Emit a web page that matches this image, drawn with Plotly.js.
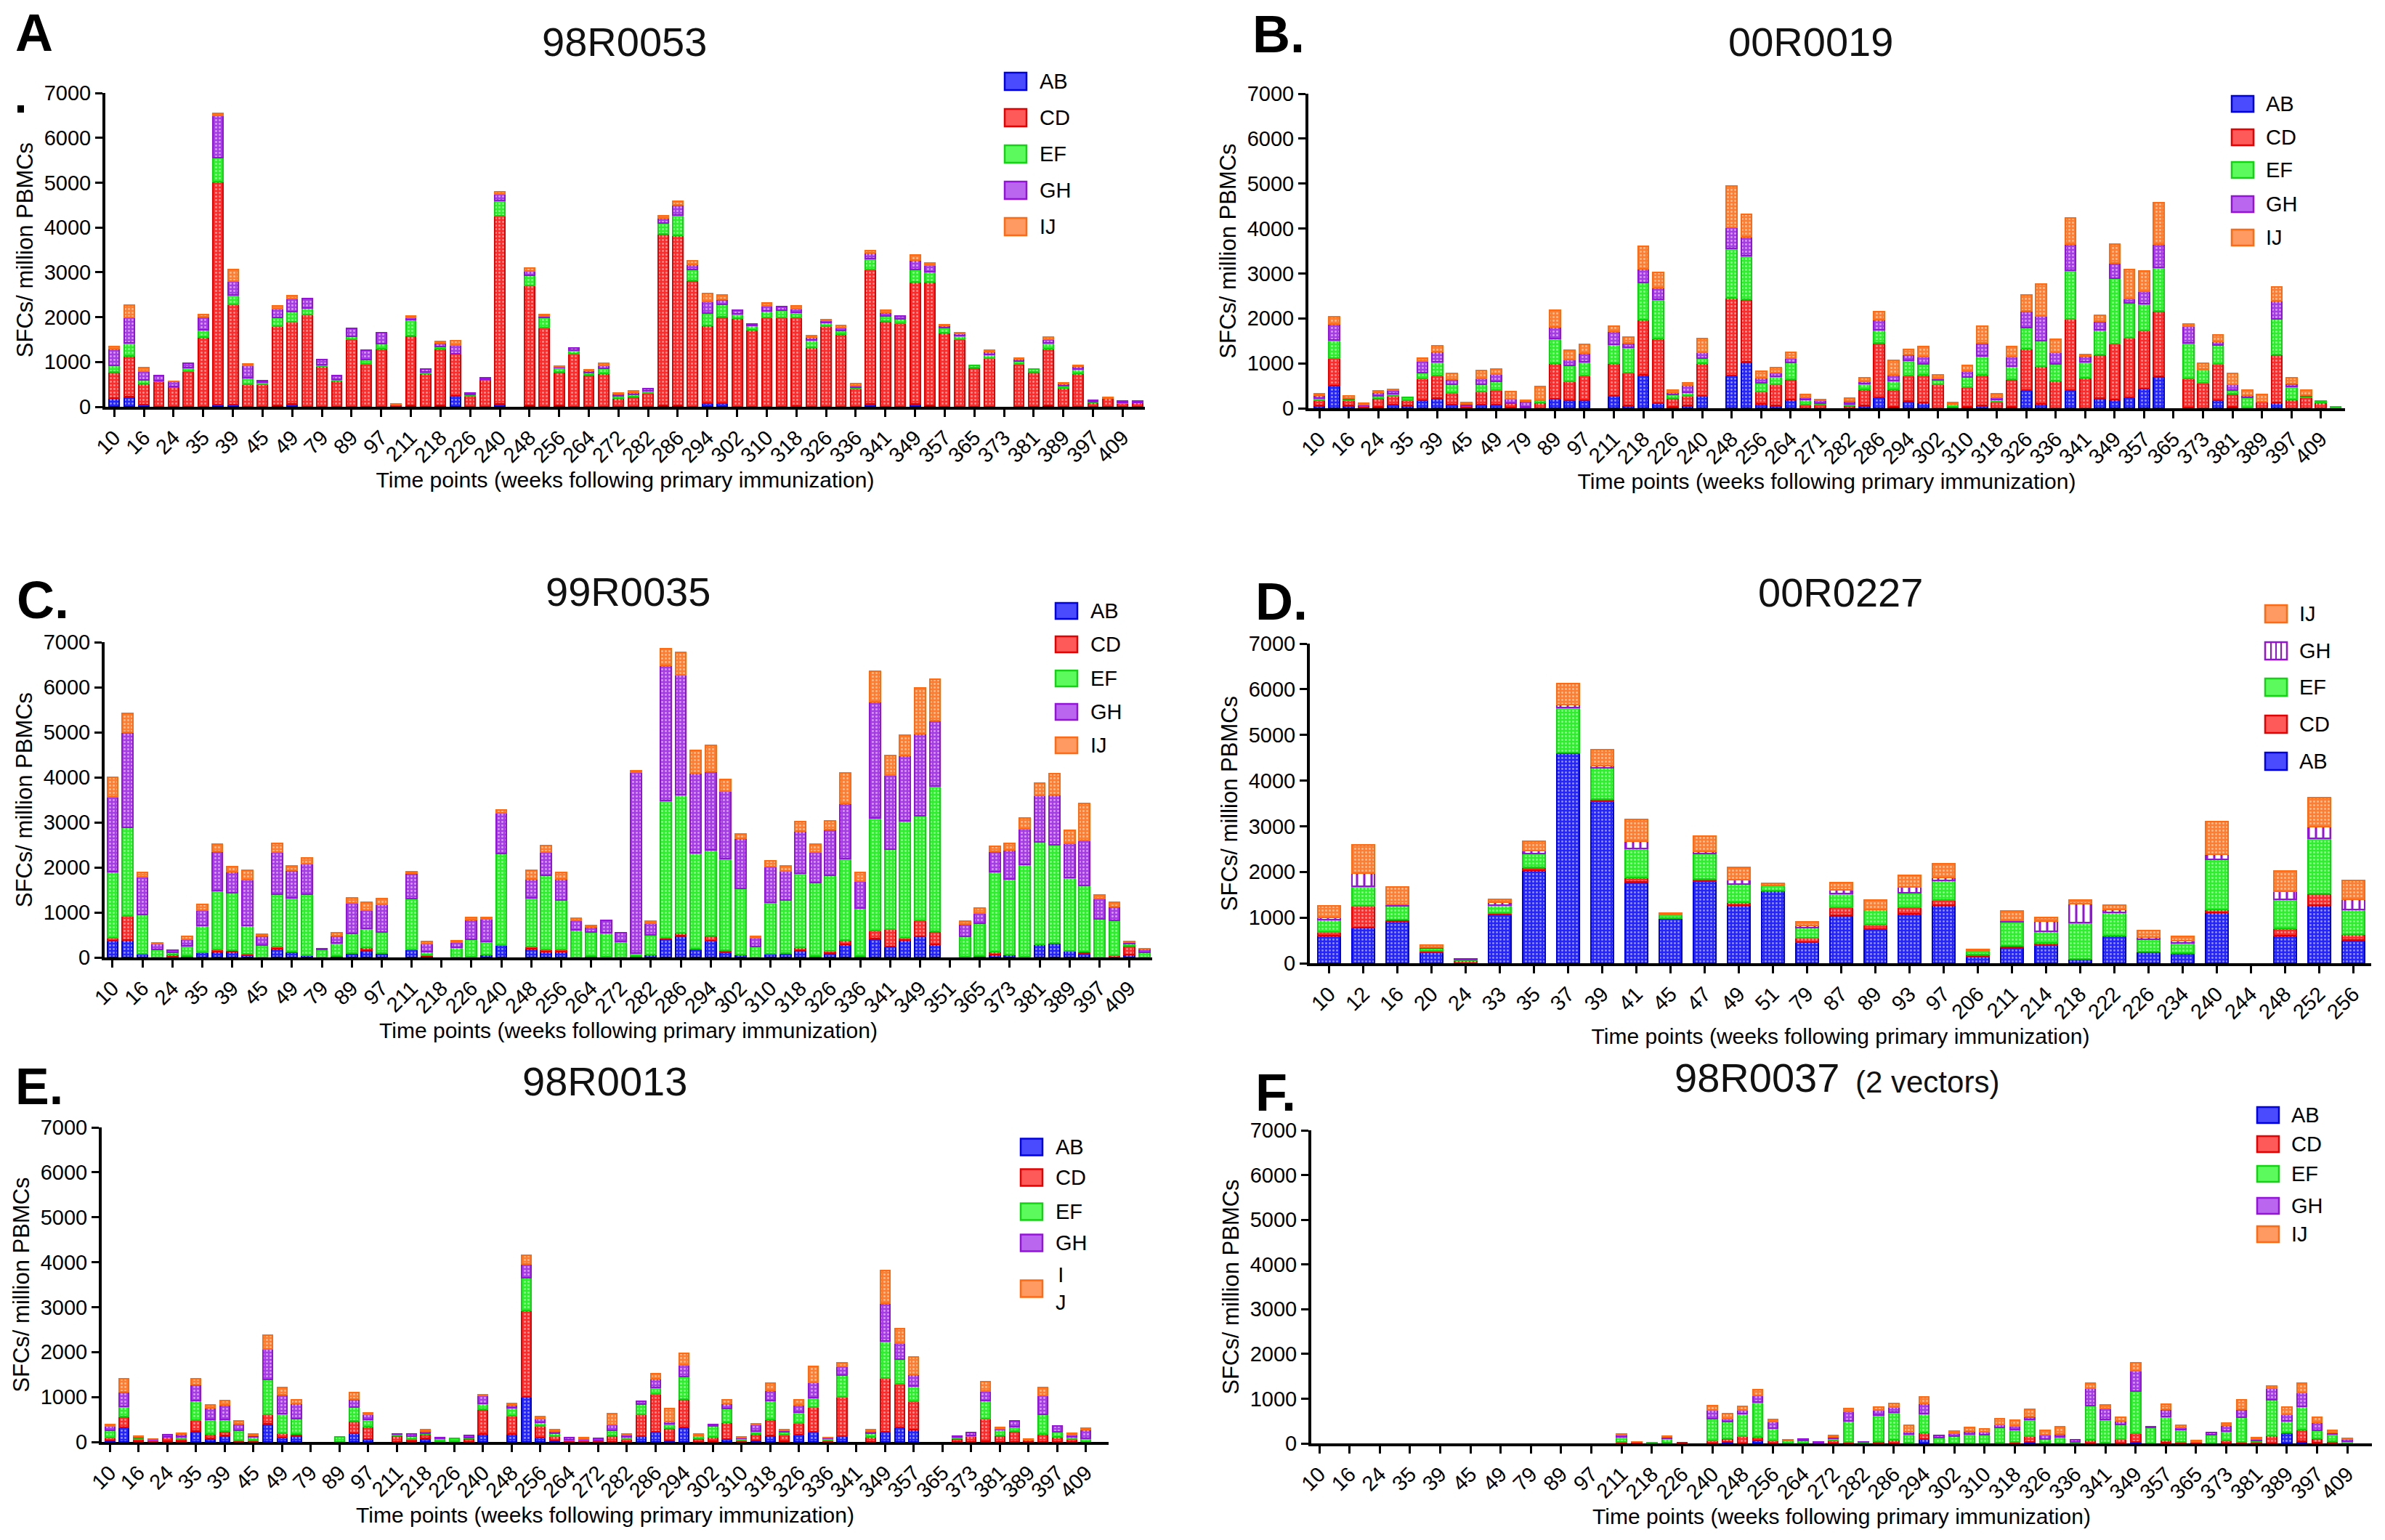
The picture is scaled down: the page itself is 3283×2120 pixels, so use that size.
<!DOCTYPE html>
<html><head><meta charset="utf-8">
<script src="https://cdn.plot.ly/plotly-3.0.1.min.js"></script>
<style>html,body{margin:0;padding:0;background:#fff;}#chart{width:3283px;height:2120px;}</style>
</head><body><div id="chart"></div>
<script>
// ---------- categories / tick labels ----------
const weeksMain = ["10","12","16","20","24","33","35","37","39","41","45","47","49","51","79","87","89","93","97","206","211","214","218","222","226","234","240","244","248","252","256","260","264","268","272","276","282","284","286","290","294","298","302","306","310","314","318","322","326","330","336","338","341","345","349","353","357","361","365","369","373","377","381","385","389","393","397","401","409","413"];
const weeksB = ["10","12","16","20","24","33","35","37","39","41","45","47","49","51","79","87","89","93","97","206","211","214","218","222","226","234","240","244","248","252","256","260","264","268","271","276","282","284","286","290","294","298","302","306","310","314","318","322","326","330","336","338","341","345","349","353","357","361","365","369","373","377","381","385","389","393","397","401","409","413"];
const weeksC = ["10","12","16","20","24","33","35","37","39","41","45","47","49","51","79","87","89","93","97","206","211","214","218","222","226","234","240","244","248","252","256","260","264","268","272","276","282","284","286","290","294","298","302","306","310","314","318","322","326","330","336","338","341","345","349","353","351","361","365","369","373","377","381","385","389","393","397","401","409","413"];
const weeksD = ["10","12","16","20","24","33","35","37","39","41","45","47","49","51","79","87","89","93","97","206","211","214","218","222","226","234","240","244","248","252","256"];
const seriesNames = ["AB","CD","EF","GH","IJ"];

// ---------- A: 98R0053 ----------
const A_AB = [190,220,50,0,0,0,0,50,50,0, 0,40,60,0,0,0,0,0,0,0, 40,0,30,250,0,0,60,0,30,0, 30,0,0,0,0,0,0,30,30,0, 80,80,0,0,0,0,20,0,0,0, 0,60,0,0,60,40,0,0,0,0, 0,0,0,30,0,0,0,0,0,0];
const A_CD = [580,910,470,560,460,800,1560,4980,2230,500, 500,1760,1830,2060,900,580,1510,960,1300,50, 1540,740,1270,930,250,610,4200,0,2670,1770, 740,1180,710,750,200,230,300,3830,3800,2820, 1730,1930,1980,1710,2000,2000,1970,1330,1800,1620, 400,3010,1910,1860,2720,2740,1650,1510,880,1080, 0,960,770,1270,420,750,90,190,80,100];
const A_EF = [150,300,80,20,0,70,150,520,210,150, 50,190,230,140,40,40,60,100,110,0, 360,40,50,0,30,0,340,0,230,220, 100,80,50,110,40,50,60,240,440,240, 280,280,90,100,140,150,120,160,80,80, 40,240,120,100,290,240,110,70,50,80, 0,60,80,130,50,90,30,0,20,0];
const A_GH = [370,570,200,120,100,110,300,940,310,280, 40,200,300,220,110,80,180,210,240,0, 60,60,70,190,20,40,140,0,100,40, 20,60,50,60,50,50,50,120,240,110, 260,110,90,45,110,80,80,60,50,70, 30,130,70,60,200,140,50,50,0,70, 0,50,0,80,50,70,20,0,30,30];
const A_IJ = [60,270,70,0,10,0,50,60,270,20, 0,60,60,0,0,0,0,0,0,10, 30,0,40,110,0,0,60,0,70,30, 10,0,20,60,10,20,0,40,70,80, 170,100,0,0,60,0,60,30,20,40, 50,50,50,0,120,50,20,20,0,30, 0,15,0,50,15,20,0,25,0,0];

// ---------- B: 00R0019 ----------
const B_AB = [60,500,70,10,30,80,70,170,230,80, 20,80,80,10,0,0,210,170,180,0, 270,70,750,110,30,70,270,0,730,1030, 90,70,200,0,0,0,0,60,240,40, 160,130,0,0,30,70,0,40,400,100, 0,400,0,230,190,240,430,710,0,20, 0,170,30,0,0,130,0,0,0,0];
const B_CD = [120,620,110,50,200,190,100,500,500,260, 40,290,320,100,30,130,800,430,550,0, 730,730,1220,1440,200,210,730,0,1720,1400, 280,470,440,80,80,0,60,360,1220,380, 560,620,530,30,440,680,140,600,920,830, 620,1590,680,960,1250,1330,1300,1460,0,640, 560,810,300,20,150,1060,200,240,130,0];
const B_EF = [50,400,30,10,40,60,80,130,300,200, 10,170,200,10,0,40,540,360,300,0, 420,560,830,880,70,70,120,0,1100,960, 200,170,380,120,40,0,40,130,280,200, 350,240,100,60,220,420,60,290,480,580, 370,1080,360,550,1450,770,600,960,0,790, 310,420,80,220,0,800,290,30,30,40];
const B_GH = [60,350,20,10,80,70,0,250,230,110, 20,120,160,90,130,0,260,130,200,0, 290,100,300,250,60,160,130,0,480,420, 110,90,100,40,50,0,60,50,240,130, 130,160,30,10,140,280,50,220,360,540, 260,580,120,200,350,100,280,520,0,370, 0,80,120,50,0,410,60,20,0,0];
const B_IJ = [40,170,40,30,40,20,0,60,130,120, 40,180,110,160,20,320,380,200,190,0, 120,130,500,350,40,50,300,0,920,500, 150,110,120,60,30,0,70,80,170,320, 110,220,90,30,120,370,70,230,360,720, 290,580,40,130,410,650,440,920,0,50, 130,150,250,110,150,300,130,120,0,0];

// ---------- C: 99R0035 ----------
const C_AB = [370,380,80,0,20,0,110,130,130,50, 0,200,110,50,0,30,100,160,100,0, 170,30,0,0,20,70,270,0,200,130, 130,0,0,20,0,0,60,420,480,170, 370,110,60,0,80,80,160,20,90,290, 20,420,250,380,470,290,0,0,30,60, 60,0,290,330,150,100,0,0,60,0];
const C_CD = [60,540,0,0,50,30,0,50,30,30, 0,40,20,0,0,0,0,60,0,0, 0,20,0,0,0,0,0,0,40,40, 40,0,40,0,0,30,0,20,70,30, 120,50,0,0,0,20,60,10,50,90, 20,180,380,50,350,290,0,20,0,70, 0,20,0,0,0,30,0,50,200,0];
const C_EF = [1470,1970,870,170,40,230,600,1300,1270,630, 280,1160,1200,1350,170,300,430,430,460,0, 1130,80,0,220,380,290,2030,0,1090,1650, 1110,620,520,530,350,60,440,3040,3070,2130, 1890,2040,1480,240,1140,1180,1650,1630,1690,1820, 1050,2500,1770,2600,2320,3220,0,450,730,1780, 1680,2050,2280,2170,1620,1470,860,780,40,110];
const C_GH = [1670,2110,840,130,50,150,340,870,470,1020, 200,940,600,680,30,150,680,400,620,0, 570,180,0,120,440,490,910,0,420,520, 470,200,110,280,200,4030,260,3000,2650,1770, 1750,1490,1110,200,790,640,940,680,1010,1220, 610,2580,1650,1450,1830,1460,0,270,230,440, 640,780,1030,1120,770,1000,440,300,40,80];
const C_IJ = [430,420,100,30,0,50,130,160,120,200, 40,190,110,130,0,70,120,180,120,0, 30,40,0,30,40,30,60,0,190,140, 130,50,40,0,0,30,40,380,500,490, 580,260,100,20,130,110,200,170,190,670, 180,680,430,450,1020,910,0,70,110,110, 160,250,270,460,290,820,80,90,20,10];

// ---------- D: 00R0227 ----------
const D_AB = [600,780,930,240,0,1070,2040,4600,3540,1780, 980,1790,1280,1590,460,1050,740,1080,1270,150, 350,400,90,610,250,210,1110,0,610,1280, 510];
const D_CD = [90,470,20,30,60,30,60,20,60,100, 0,50,60,0,90,170,100,140,110,40, 30,50,0,0,0,20,60,0,160,250, 130];
const D_EF = [260,430,300,60,20,180,300,980,680,640, 80,560,400,120,230,310,330,320,440,80, 530,250,800,510,280,220,1110,0,630,1200, 540];
const D_GH = [50,300,40,20,20,50,60,60,40,150, 0,50,90,0,40,70,0,130,50,0, 30,230,420,50,50,50,100,0,170,260, 220];
const D_IJ = [250,620,380,50,0,70,220,470,360,480, 30,340,270,40,80,160,210,250,310,30, 200,80,80,100,140,90,720,0,450,640, 410];

// ---------- E: 98R0013 ----------
const E_AB = [30,320,20,0,10,20,240,80,150,10, 10,400,100,140,0,0,0,200,70,0, 0,10,80,0,0,0,180,0,170,1010, 100,30,0,0,10,0,0,130,230,40, 320,0,10,70,0,30,150,20,160,230, 0,130,0,0,230,330,280,0,0,0, 0,20,0,0,0,0,0,0,0,0];
const E_CD = [70,240,50,40,110,40,250,90,90,20, 30,220,100,30,0,0,0,270,270,0, 140,60,90,20,20,80,540,0,420,1920, 250,100,30,40,20,150,70,480,840,260, 640,80,110,370,40,140,350,140,260,540, 40,880,0,110,1190,970,620,0,0,80, 130,500,150,250,50,170,120,60,0,0];
const E_EF = [160,230,30,10,0,60,430,330,260,230, 70,770,430,350,0,0,110,310,160,0, 30,60,30,60,60,20,140,0,170,730, 90,60,20,10,10,110,40,230,150,100, 490,60,230,300,40,80,420,60,240,210, 40,470,0,80,820,550,350,0,0,40, 20,400,120,90,0,440,110,50,80,0];
const E_GH = [90,320,20,10,40,60,350,260,330,150, 40,680,420,340,0,0,0,180,110,0, 10,40,40,20,0,40,170,0,70,300, 80,60,40,10,40,130,50,60,180,50, 270,0,30,120,20,140,220,40,160,350, 10,200,0,60,850,350,260,0,0,10, 60,210,20,130,0,430,120,50,190,0];
const E_IJ = [40,290,10,10,0,20,140,70,90,60, 20,300,160,80,0,0,0,140,30,0, 0,0,40,0,0,0,20,0,30,200, 40,20,0,30,0,240,20,0,120,290, 260,30,0,80,20,20,170,20,110,350, 10,80,0,30,730,320,380,0,0,0, 0,210,40,0,20,180,0,30,30,0];

// ---------- F: 98R0037 (2 vectors) ----------
const F_AB = [0,0,0,0,0,0,0,0,0,0, 0,0,0,0,0,0,0,0,0,0, 0,0,0,0,0,0,0,30,0,70, 0,0,0,0,0,0,0,0,0,0, 90,0,0,0,0,0,0,40,0,0, 0,0,0,0,30,0,20,10,0,0, 0,0,0,0,230,50,20,0,0,0];
const F_CD = [0,0,0,0,0,0,0,0,0,0, 0,0,0,0,0,0,0,0,0,0, 40,30,0,20,20,0,70,80,170,70, 60,0,0,20,60,30,0,50,80,20, 160,0,0,0,0,20,40,130,20,0, 0,80,20,90,200,0,60,30,30,0, 60,30,40,180,20,260,100,50,0,0];
const F_EF = [0,0,0,0,0,0,0,0,0,0, 0,0,0,0,0,0,0,0,0,0, 100,0,20,90,0,0,480,370,490,780, 280,60,70,0,60,480,30,580,620,190, 420,130,170,210,190,330,270,370,70,140, 40,760,520,330,940,360,520,270,0,200, 210,550,30,790,260,520,170,160,50,0];
const F_GH = [0,0,0,0,0,0,0,0,0,0, 0,0,0,0,0,0,0,0,0,0, 50,0,0,30,0,0,200,80,80,150, 150,0,20,20,20,210,10,120,120,50, 230,50,60,70,70,80,80,60,110,70, 40,390,240,90,460,20,170,40,0,50, 130,190,30,270,140,300,180,40,40,0];
const F_IJ = [0,0,0,0,0,0,0,0,0,0, 0,0,0,0,0,0,0,0,0,0, 20,10,0,20,0,0,90,110,90,140, 40,20,0,0,40,60,0,70,70,140, 140,0,40,70,60,130,130,160,90,160, 0,120,80,80,170,0,100,60,30,0, 60,200,30,40,170,220,120,40,20,0];

// ---------- styling ----------
const W = 3283, H = 2120;
const px = v => v / W, py = v => 1 - v / H;
const FONT = 'Liberation Sans, Arial, Helvetica, sans-serif';
const fillCol = {AB:'#2424ff', CD:'#ff2b2b', EF:'#2cf02c', GH:'#a53ce6', IJ:'#ff7d30'};
const lineCol = {AB:'#0000e6', CD:'#e80000', EF:'#12d412', GH:'#9412dc', IJ:'#ff6a12'};
const swatchCol = {AB:'#4a4aff', CD:'#ff5a5a', EF:'#5cfa5c', GH:'#bb66ee', IJ:'#ff9a62'};

const panels = [
  {letter:'A', title:'98R0053', weeks:weeksMain, vals:[A_AB,A_CD,A_EF,A_GH,A_IJ], ax:{l:145,r:1576,t:128,b:560}, range:[-0.6,69.5], bw:0.68, every:2,
   tx:860, ty:57, lx:19, ly:45, lsize:72, leg:{x:1383, tx:1429, cy:[112,162,212,262,312], order:[0,1,2,3,4], h:24}},
  {letter:'B.', title:'00R0019', weeks:weeksB, vals:[B_AB,B_CD,B_EF,B_GH,B_IJ], ax:{l:1801,r:3228,t:129,b:562}, range:[-0.74,69.64], bw:0.72, every:2,
   tx:2492, ty:57, lx:1722, ly:47, lsize:72, leg:{x:3072, tx:3117, cy:[143,189,234,281,327], order:[0,1,2,3,4], h:22}},
  {letter:'C.', title:'99R0035', weeks:weeksC, vals:[C_AB,C_CD,C_EF,C_GH,C_IJ], ax:{l:144,r:1586,t:884,b:1318}, range:[-0.53,69.53], bw:0.72, every:2,
   tx:864, ty:814, lx:21, ly:826, lsize:72, leg:{x:1453, tx:1499, cy:[841,887,934,980,1026], order:[0,1,2,3,4], h:22}},
  {letter:'D.', title:'00R0227', weeks:weeksD, vals:[D_AB,D_CD,D_EF,D_GH,D_IJ], ax:{l:1803,r:3264,t:886,b:1326}, range:[-0.57,30.53], bw:0.66, every:1,
   tx:2533, ty:815, lx:1726, ly:828, lsize:72, leg:{x:3118, tx:3163, cy:[845,896,946,997,1048], order:[4,3,2,1,0], h:24}, ghLines:true},
  {letter:'E.', title:'98R0013', weeks:weeksMain, vals:[E_AB,E_CD,E_EF,E_GH,E_IJ], ax:{l:140,r:1526,t:1552,b:1985}, range:[-0.56,69.57], bw:0.66, every:2,
   tx:832, ty:1488, lx:19, ly:1496, lsize:70, leg:{x:1405, tx:1451, cy:[1579,1621,1668,1711,1774], order:[0,1,2,3,4], h:23, ijSplit:true}},
  {letter:'F.', title:'98R0037', sub:'(2 vectors)', weeks:weeksMain, vals:[F_AB,F_CD,F_EF,F_GH,F_IJ], ax:{l:1805,r:3265,t:1556,b:1987}, range:[-0.53,69.63], bw:0.65, every:2,
   tx:2534, ty:1483, lx:1726, ly:1504, lsize:72, leg:{x:3107, tx:3152, cy:[1535,1575,1616,1660,1699], order:[0,1,2,3,4], h:22}}
];

const traces = [];
const layout = {
  width: W, height: H, margin:{l:0,r:0,t:0,b:0},
  paper_bgcolor:'#ffffff', plot_bgcolor:'#ffffff',
  barmode:'stack', showlegend:false,
  font:{family:FONT, color:'#000', size:29},
  annotations:[], shapes:[]
};

panels.forEach((p, i) => {
  const n = i + 1;
  const xa = 'xaxis' + (n === 1 ? '' : n), ya = 'yaxis' + (n === 1 ? '' : n);
  const xr = 'x' + (n === 1 ? '' : n), yr = 'y' + (n === 1 ? '' : n);
  const tv = p.weeks.filter((_, k) => k % p.every === 0);
  layout[xa] = {
    domain:[px(p.ax.l), px(p.ax.r)], anchor:yr, type:'category',
    categoryorder:'array', categoryarray:p.weeks, range:p.range,
    tickmode:'array', tickvals:tv, ticktext:tv, tickangle:-45,
    ticks:'outside', ticklen:10, tickwidth:3, tickcolor:'#000',
    showline:true, linewidth:4, linecolor:'#000', showgrid:false, zeroline:false,
    tickfont:{family:FONT, size:29, color:'#000'},
    title:{text:'Time points (weeks following primary immunization)', font:{family:FONT, size:30, color:'#000'}, standoff:9},
    automargin:false, fixedrange:true
  };
  layout[ya] = {
    domain:[py(p.ax.b), py(p.ax.t)], anchor:xr, range:[0,7000],
    tickmode:'array', tickvals:[0,1000,2000,3000,4000,5000,6000,7000],
    ticks:'outside', ticklen:10, tickwidth:3, tickcolor:'#000',
    showline:true, linewidth:4, linecolor:'#000', showgrid:false, zeroline:false,
    tickfont:{family:FONT, size:29, color:'#000'},
    title:{text:'SFCs/ million PBMCs', font:{family:FONT, size:31, color:'#000'}, standoff:7},
    automargin:false, fixedrange:true
  };
  seriesNames.forEach((s, k) => {
    const dGH = p.ghLines && s === 'GH';
    traces.push({
      type:'bar', name:s, x:p.weeks, y:p.vals[k].map(v => v === 0 ? null : v), xaxis:xr, yaxis:yr, width:p.bw,
      marker:{
        color: dGH ? '#ffffff' : fillCol[s],
        line:{color:lineCol[s], width:2},
        pattern: dGH ? {shape:'|', fgcolor:lineCol.GH, bgcolor:'#ffffff', size:10, solidity:0.3, fillmode:'replace'}
                     : {shape:'.', fgcolor:'#ffffff', size:5, solidity:0.28, fillmode:'overlay'}
      },
      hoverinfo:'skip', showlegend:false
    });
  });
  // panel letter
  layout.annotations.push({xref:'paper', yref:'paper', x:px(p.lx), y:py(p.ly), xanchor:'left', yanchor:'middle',
    text:'<b>' + p.letter + '</b>', showarrow:false, font:{family:FONT, size:p.lsize, color:'#000'}});
  // panel title
  if (p.sub) {
    layout.annotations.push({xref:'paper', yref:'paper', x:px(p.tx), y:py(p.ty), xanchor:'right', yanchor:'middle',
      text:p.title, showarrow:false, font:{family:FONT, size:56, color:'#111'}});
    layout.annotations.push({xref:'paper', yref:'paper', x:px(p.tx + 18), y:py(p.ty + 6), xanchor:'left', yanchor:'middle',
      text:p.sub, showarrow:false, font:{family:FONT, size:42, color:'#111'}});
  } else {
    layout.annotations.push({xref:'paper', yref:'paper', x:px(p.tx), y:py(p.ty), xanchor:'center', yanchor:'middle',
      text:p.title, showarrow:false, font:{family:FONT, size:56, color:'#111'}});
  }
  // legend (drawn as swatches + labels)
  p.leg.order.forEach((k, j) => {
    const s = seriesNames[k];
    const cy = p.leg.cy[j], h = p.leg.h;
    const dGH = p.ghLines && s === 'GH';
    layout.shapes.push({type:'rect', xref:'paper', yref:'paper', x0:px(p.leg.x), x1:px(p.leg.x + 30), y0:py(cy + h/2), y1:py(cy - h/2),
      fillcolor: dGH ? '#ffffff' : swatchCol[s], line:{color:lineCol[s], width:2.5}});
    if (dGH) {
      [8, 15, 22].forEach(dx => layout.shapes.push({type:'line', xref:'paper', yref:'paper', x0:px(p.leg.x + dx), x1:px(p.leg.x + dx),
        y0:py(cy + h/2), y1:py(cy - h/2), line:{color:lineCol.GH, width:2}}));
    }
    const label = (p.leg.ijSplit && s === 'IJ') ? 'I<br>J' : s;
    layout.annotations.push({xref:'paper', yref:'paper', x:px(p.leg.tx), y:py(cy), xanchor:'left', yanchor:'middle',
      text:label, showarrow:false, font:{family:FONT, size:29, color:'#000'}});
  });
});

// stray mark in panel A
layout.shapes.push({type:'rect', xref:'paper', yref:'paper', x0:px(24), x1:px(33), y0:py(155), y1:py(145), fillcolor:'#000', line:{width:0}});

Plotly.newPlot('chart', traces, layout, {staticPlot:true, displayModeBar:false});
</script>
</body></html>
